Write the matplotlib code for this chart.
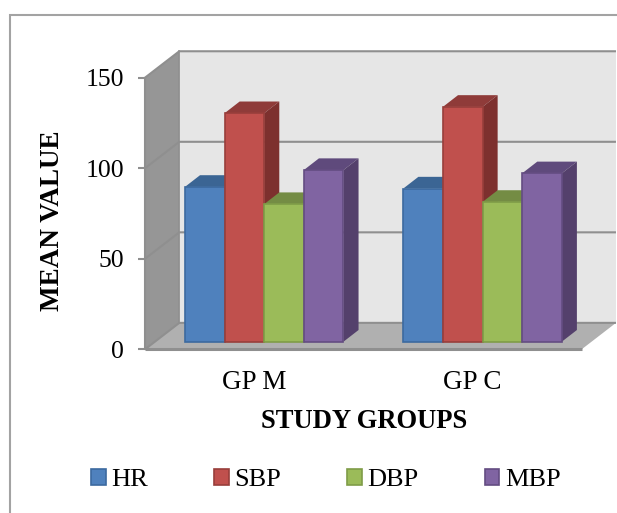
import matplotlib
matplotlib.use("Agg")
import matplotlib.pyplot as plt
from matplotlib.patches import Polygon, Rectangle

plt.rcParams["font.family"] = ["Liberation Serif", "DejaVu Serif"]

groups = ["GP M", "GP C"]
series = ["HR", "SBP", "DBP", "MBP"]
hr = [85.5, 84.6]
sbp = [126.2, 129.7]
dbp = [76.0, 77.2]
mbp = [94.8, 93.0]
yticks = [0, 50, 100, 150]

front = ["#4f81bd", "#c0504d", "#9bbb59", "#8064a2"]
edges = ["#3c6a9f", "#983e3b", "#7f9c48", "#644d82"]
tops = ["#3b6594", "#8f3b39", "#748c44", "#5f4a7c"]
sides = ["#35597f", "#7d302e", "#667b3c", "#54406c"]

W, H = 617, 513
GRAY = "#8f8f8f"

fig = plt.figure(figsize=(W / 100, H / 100), dpi=100)
ax = fig.add_axes([145 / W, 1 - 349.3 / H, 436.7 / W, 271.6 / H])
ax.set_xlim(0, 2)
ax.set_ylim(0, 150)
ax.patch.set_visible(False)
for s in ax.spines.values():
    s.set_visible(False)

# depth of the fake 3d box, in data units
wall_dx, wall_dy = 0.157, 14.6
bar_x0, bar_y0 = 0.046, 4.2
bar_dx, bar_dy = 0.069, 6.45
bar_w = 0.1815


def poly(pts, fc, z, ec="none", lw=0):
    ax.add_patch(Polygon(pts, closed=True, fc=fc, ec=ec, lw=lw, zorder=z, clip_on=False))


# walls and floor
poly([(wall_dx, wall_dy), (2 + wall_dx, wall_dy), (2 + wall_dx, 150 + wall_dy), (wall_dx, 150 + wall_dy)], "#e6e6e6", 1)
poly([(0, 0), (wall_dx, wall_dy), (wall_dx, 150 + wall_dy), (0, 150)], "#969696", 1)
poly([(0, 0), (2, 0), (2 + wall_dx, wall_dy), (wall_dx, wall_dy)], "#b0b0b0", 1)

# grid on both walls
for t in yticks:
    ax.plot([0, wall_dx, 2 + wall_dx], [t, t + wall_dy, t + wall_dy], color=GRAY, lw=1.5, zorder=2, clip_on=False,
            solid_capstyle="butt")
ax.plot([wall_dx, wall_dx], [wall_dy, 150 + wall_dy], color=GRAY, lw=1.2, zorder=2, clip_on=False)
ax.plot([0, 0], [0, 150], color=GRAY, lw=1.5, zorder=2, clip_on=False)
ax.plot([0, 2], [0, 0], color=GRAY, lw=2.2, zorder=2, clip_on=False, solid_capstyle="butt")

# bars, painted left to right so that each one hides the side of the previous
handles = []
z = 3
for g in range(len(groups)):
    x0 = g + 0.5 - 2 * bar_w + bar_x0
    for i, vals in enumerate([hr, sbp, dbp, mbp]):
        v = vals[g]
        left = x0 + i * bar_w
        right = left + bar_w
        top = bar_y0 + v
        poly([(left, top), (right, top), (right + bar_dx, top + bar_dy), (left + bar_dx, top + bar_dy)], tops[i], z)
        poly([(right, bar_y0), (right + bar_dx, bar_y0 + bar_dy), (right + bar_dx, top + bar_dy), (right, top)],
             sides[i], z)
        b = ax.bar(left, v, bar_w, bottom=bar_y0, align="edge", color=front[i], edgecolor=edges[i], linewidth=1.2,
                   zorder=z + 1, clip_on=False, label=series[i] if g == 0 else None)
        if g == 0:
            handles.append(b[0])
        z += 2

ax.set_yticks(yticks)
ax.set_xticks([0.5, 1.5])
ax.set_xticklabels(groups, fontsize=19.5)
ax.tick_params(axis="x", length=0, pad=15)
ax.tick_params(axis="y", length=5, width=1.5, color=GRAY, pad=10, labelsize=18.5)

fig.text(364 / W, 1 - 422 / H, "STUDY GROUPS", fontsize=19.2, fontweight="bold", ha="center", va="center")
fig.text(53 / W, 1 - 221 / H, "MEAN VALUE", fontsize=19.5, fontweight="bold", rotation=90, ha="center", va="center")

ax.legend(handles, series, ncol=4, loc="center left", bbox_to_anchor=(91 / W, 1 - 480 / H),
          bbox_transform=fig.transFigure, frameon=False, fontsize=19, handlelength=0.55, handleheight=0.55,
          handletextpad=0.22, columnspacing=2.5, borderpad=0, borderaxespad=0)

# chart frame runs past the right and bottom of the picture
fig.add_artist(Rectangle((10.5 / W, -0.1), 1.2, 1.1 - 15 / H, transform=fig.transFigure, fill=False,
                         ec="#a3a3a3", lw=1.5))

fig.savefig("out.png", dpi=100)
